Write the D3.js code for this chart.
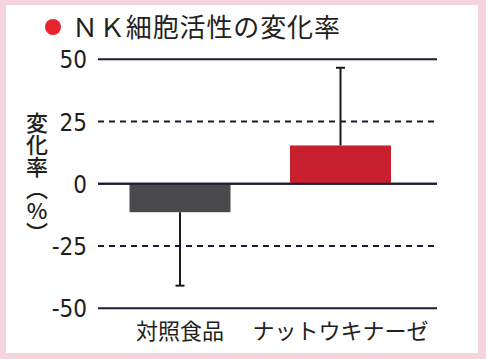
<!DOCTYPE html>
<html lang="ja">
<head>
<meta charset="utf-8">
<title>NK細胞活性の変化率</title>
<script src="https://d3js.org/d3.v7.min.js"></script>
<style>
  body { margin: 0; background: #f6d4de; }
  svg { display: block; font-family: "Noto Sans CJK JP", sans-serif; }
  .tick text { font-family: "Liberation Sans Narrow", "DejaVu Sans Condensed", sans-serif; }
</style>
</head>
<body>
<div id="chart"></div>
<script>
// data
var categories = ["対照食品", "ナットウキナーゼ"]
var means = [-11.4, 15.4]
var errTop = [-40.9, 46.6]   // end of the error bar
var barColors = ["#4a494b", "#c8202f"]
var tickValues = [50, 25, 0, -25, -50]

var w = 486, h = 359

var svg = d3.select("#chart").append("svg")
  .attr("width", w)
  .attr("height", h)

// pink frame + white panel
svg.append("rect").attr("width", w).attr("height", h).attr("fill", "#f6d4de")
svg.append("rect").attr("x", 6).attr("y", 5).attr("width", 472).attr("height", 348).attr("fill", "#fefefe")

var yScale = d3.scaleLinear().domain([-50, 50]).range([308.3, 59.3])
var xScale = d3.scalePoint().domain(categories).range([180, 340.5])
var barW = 101
var x0 = 98, x1 = 437

// title
svg.append("circle").attr("cx", 53).attr("cy", 27).attr("r", 8).attr("fill", "#e8242f")
svg.append("text")
  .attr("x", 72).attr("y", 37)
  .attr("font-size", 26)
  .attr("fill", "#231f20")
  .attr("textLength", 268)
  .text("ＮＫ細胞活性の変化率")

// grid lines
svg.selectAll(".grid")
  .data(tickValues)
  .enter()
  .append("line")
  .attr("class", "grid")
  .attr("x1", x0).attr("x2", x1)
  .attr("y1", function(d){ return yScale(d) })
  .attr("y2", function(d){ return yScale(d) })
  .attr("stroke", "#1b1b33")
  .attr("stroke-width", 2)
  .attr("stroke-dasharray", function(d){ return (d % 50 == 0) ? null : "6,5" })

// y tick labels via axis
var yAxis = d3.axisLeft(yScale).tickValues(tickValues).tickSize(0).tickPadding(0)
  .tickFormat(function(d){ return d < 0 ? "-" + Math.abs(d) : d })
var ag = svg.append("g").attr("transform", "translate(87,0)").call(yAxis)
ag.select(".domain").remove()
ag.selectAll("text").attr("font-size", 24).attr("fill", "#231f20").attr("dy", "0.36em")

// bars
svg.selectAll(".bar")
  .data(categories)
  .enter()
  .append("rect")
  .attr("class", "bar")
  .attr("x", function(d){ return xScale(d) - barW / 2 })
  .attr("y", function(d, i){ return yScale(Math.max(0, means[i])) })
  .attr("width", barW)
  .attr("height", function(d, i){ return Math.abs(yScale(means[i]) - yScale(0)) })
  .attr("fill", function(d, i){ return barColors[i] })

// zero line drawn again over the bars
svg.append("line")
  .attr("x1", x0).attr("x2", x1)
  .attr("y1", yScale(0)).attr("y2", yScale(0))
  .attr("stroke", "#1b1b33").attr("stroke-width", 2)

// error bars
svg.selectAll(".err")
  .data(categories)
  .enter()
  .append("line")
  .attr("class", "err")
  .attr("x1", function(d){ return xScale(d) })
  .attr("x2", function(d){ return xScale(d) })
  .attr("y1", function(d, i){ return yScale(means[i]) })
  .attr("y2", function(d, i){ return yScale(errTop[i]) })
  .attr("stroke", "#1a1a1a").attr("stroke-width", 2)

svg.selectAll(".cap")
  .data(categories)
  .enter()
  .append("line")
  .attr("class", "cap")
  .attr("x1", function(d){ return xScale(d) - 4.5 })
  .attr("x2", function(d){ return xScale(d) + 4.5 })
  .attr("y1", function(d, i){ return yScale(errTop[i]) })
  .attr("y2", function(d, i){ return yScale(errTop[i]) })
  .attr("stroke", "#1a1a1a").attr("stroke-width", 2)

// category labels
svg.selectAll(".cat")
  .data(categories)
  .enter()
  .append("text")
  .attr("class", "cat")
  .attr("x", function(d){ return xScale(d) })
  .attr("y", 339)
  .attr("text-anchor", "middle")
  .attr("font-size", 22)
  .attr("fill", "#231f20")
  .text(function(d){ return d })

// y title, vertical
svg.append("text")
  .attr("x", 37).attr("y", 112)
  .attr("font-size", 22)
  .attr("font-weight", 500)
  .attr("fill", "#231f20")
  .style("writing-mode", "vertical-rl")
  .style("text-orientation", "upright")
  .text("変化率（%）")
</script>
</body>
</html>
